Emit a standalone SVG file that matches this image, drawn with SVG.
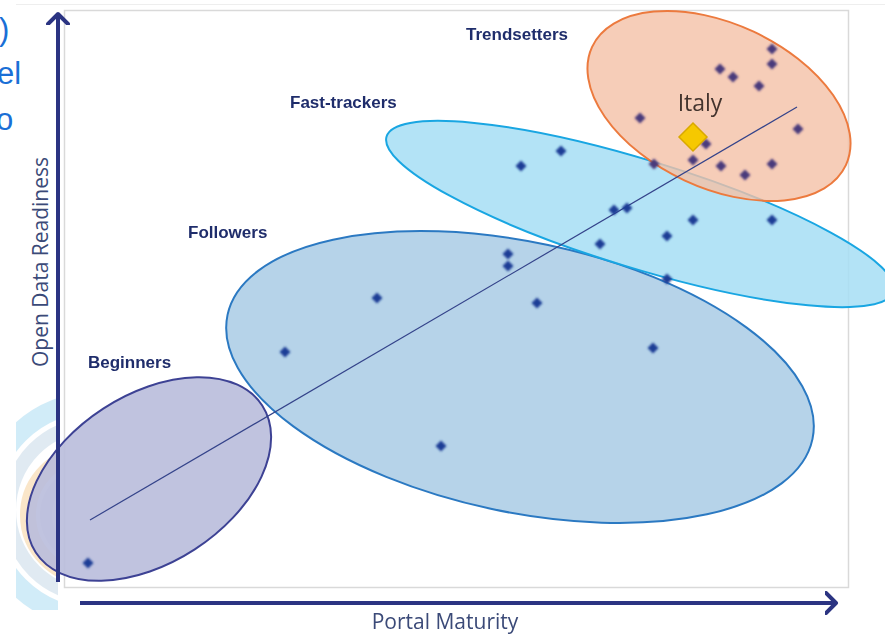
<svg xmlns="http://www.w3.org/2000/svg" width="885" height="637" viewBox="0 0 885 637">
<defs>
<style>
.lbl{font-family:"Liberation Sans",Arial,sans-serif;font-weight:bold;font-size:17px;fill:#1f2d6b}
.ax{font-family:"Open Sans","Liberation Sans",sans-serif;font-size:21px;fill:#3b4a78}
.bg{font-family:"Liberation Sans",Arial,sans-serif;font-size:31px;fill:#1a6fd6}
.axis{stroke:#2b3482;stroke-width:4;fill:none}
.pb{fill:#1f3c96}
.pp{fill:#4a3a7c}
</style>
<filter id="soft" x="-50%" y="-50%" width="200%" height="200%"><feGaussianBlur stdDeviation="0.8"/></filter>
<path id="d" d="M0,-5.5 L5.5,0 L0,5.5 L-5.5,0 Z"/>
<clipPath id="lc"><rect x="16" y="380" width="42" height="230"/></clipPath>
<marker id="chev" markerWidth="24" markerHeight="24" refX="11" refY="12" orient="auto" markerUnits="userSpaceOnUse"><path d="M1,2 L11,12 L1,22" fill="none" stroke="#2b3482" stroke-width="4" stroke-linecap="round" stroke-linejoin="round"/></marker>
</defs>
<rect width="885" height="637" fill="#ffffff"/>
<text class="bg" x="-1" y="40">)</text>
<text class="bg" x="-3" y="84">el</text>
<text class="bg" x="-4" y="130">o</text>
<g clip-path="url(#lc)" opacity="0.4">
<circle cx="95" cy="510" r="108" fill="none" stroke="#8fd0ee" stroke-width="20"/>
<circle cx="95" cy="510" r="86" fill="none" stroke="#b4cde0" stroke-width="14"/>
<circle cx="90" cy="515" r="62" fill="none" stroke="#f3c27a" stroke-width="16"/>
<circle cx="90" cy="515" r="44" fill="none" stroke="#c9c9d8" stroke-width="12"/>
</g>
<line x1="16" y1="4.5" x2="885" y2="4.5" stroke="#eeeeee" stroke-width="1"/>
<rect x="64.5" y="10.5" width="784" height="577" fill="#ffffff" stroke="#d9d9d9" stroke-width="1.5"/>
<g id="beginners"><ellipse cx="149" cy="479" rx="135" ry="84" transform="rotate(-33 149 479)" fill="#b9bcdc" fill-opacity="0.9" stroke="#3d4294" stroke-width="2"/></g>
<g id="followers"><ellipse cx="520" cy="377" rx="299" ry="135" transform="rotate(12 520 377)" fill="#a9cbe5" fill-opacity="0.85" stroke="#2b79c2" stroke-width="2"/></g>
<g id="fast-trackers"><ellipse cx="640" cy="214" rx="265" ry="54" transform="rotate(17 640 214)" fill="#a6def4" fill-opacity="0.85" stroke="#19a6e2" stroke-width="2"/></g>
<g id="trendsetters"><ellipse cx="719" cy="106" rx="140" ry="82" transform="rotate(25 719 106)" fill="#f4c0a6" fill-opacity="0.8" stroke="#ec7a3e" stroke-width="2"/></g>
<g id="connectors">
<line x1="90" y1="520" x2="797" y2="107" stroke="#34438a" stroke-width="1.2"/>
<line class="axis" x1="58" y1="582" x2="58" y2="14" marker-end="url(#chev)"/>
<line class="axis" x1="80" y1="603" x2="836" y2="603" marker-end="url(#chev)"/>
</g>
<g id="points" filter="url(#soft)">
<use href="#d" class="pp" x="772" y="49"/><use href="#d" class="pp" x="772" y="64"/>
<use href="#d" class="pp" x="720" y="69"/><use href="#d" class="pp" x="733" y="77"/>
<use href="#d" class="pp" x="759" y="86"/><use href="#d" class="pp" x="640" y="118"/>
<use href="#d" class="pp" x="798" y="129"/><use href="#d" class="pp" x="706" y="144"/>
<use href="#d" class="pp" x="654" y="164"/><use href="#d" class="pp" x="693" y="160"/>
<use href="#d" class="pp" x="721" y="166"/><use href="#d" class="pp" x="745" y="175"/>
<use href="#d" class="pp" x="772" y="164"/>
<use href="#d" class="pb" x="521" y="166"/><use href="#d" class="pb" x="561" y="151"/>
<use href="#d" class="pb" x="614" y="210"/><use href="#d" class="pb" x="627" y="208"/>
<use href="#d" class="pb" x="600" y="244"/><use href="#d" class="pb" x="667" y="236"/>
<use href="#d" class="pb" x="693" y="220"/><use href="#d" class="pb" x="772" y="220"/>
<use href="#d" class="pb" x="508" y="254"/><use href="#d" class="pb" x="508" y="266"/>
<use href="#d" class="pb" x="667" y="279"/><use href="#d" class="pb" x="377" y="298"/>
<use href="#d" class="pb" x="537" y="303"/><use href="#d" class="pb" x="285" y="352"/>
<use href="#d" class="pb" x="653" y="348"/><use href="#d" class="pb" x="441" y="446"/>
<use href="#d" class="pb" x="88" y="563"/>
</g>
<g id="italy">
<path d="M693,123 L707,137 L693,151 L679,137 Z" fill="#f6c800" stroke="#d9a900" stroke-width="1.5"/>
<text x="700" y="111" text-anchor="middle" font-family="Open Sans,Liberation Sans,sans-serif" font-size="23" fill="#43342e">Italy</text>
</g>
<g id="labels">
<text class="lbl" x="466" y="40">Trendsetters</text>
<text class="lbl" x="290" y="108">Fast-trackers</text>
<text class="lbl" x="188" y="238">Followers</text>
<text class="lbl" x="88" y="368">Beginners</text>
</g>
<text class="ax" x="445" y="629" text-anchor="middle">Portal Maturity</text>
<text class="ax" transform="translate(48 262) rotate(-90)" text-anchor="middle">Open Data Readiness</text>
</svg>
